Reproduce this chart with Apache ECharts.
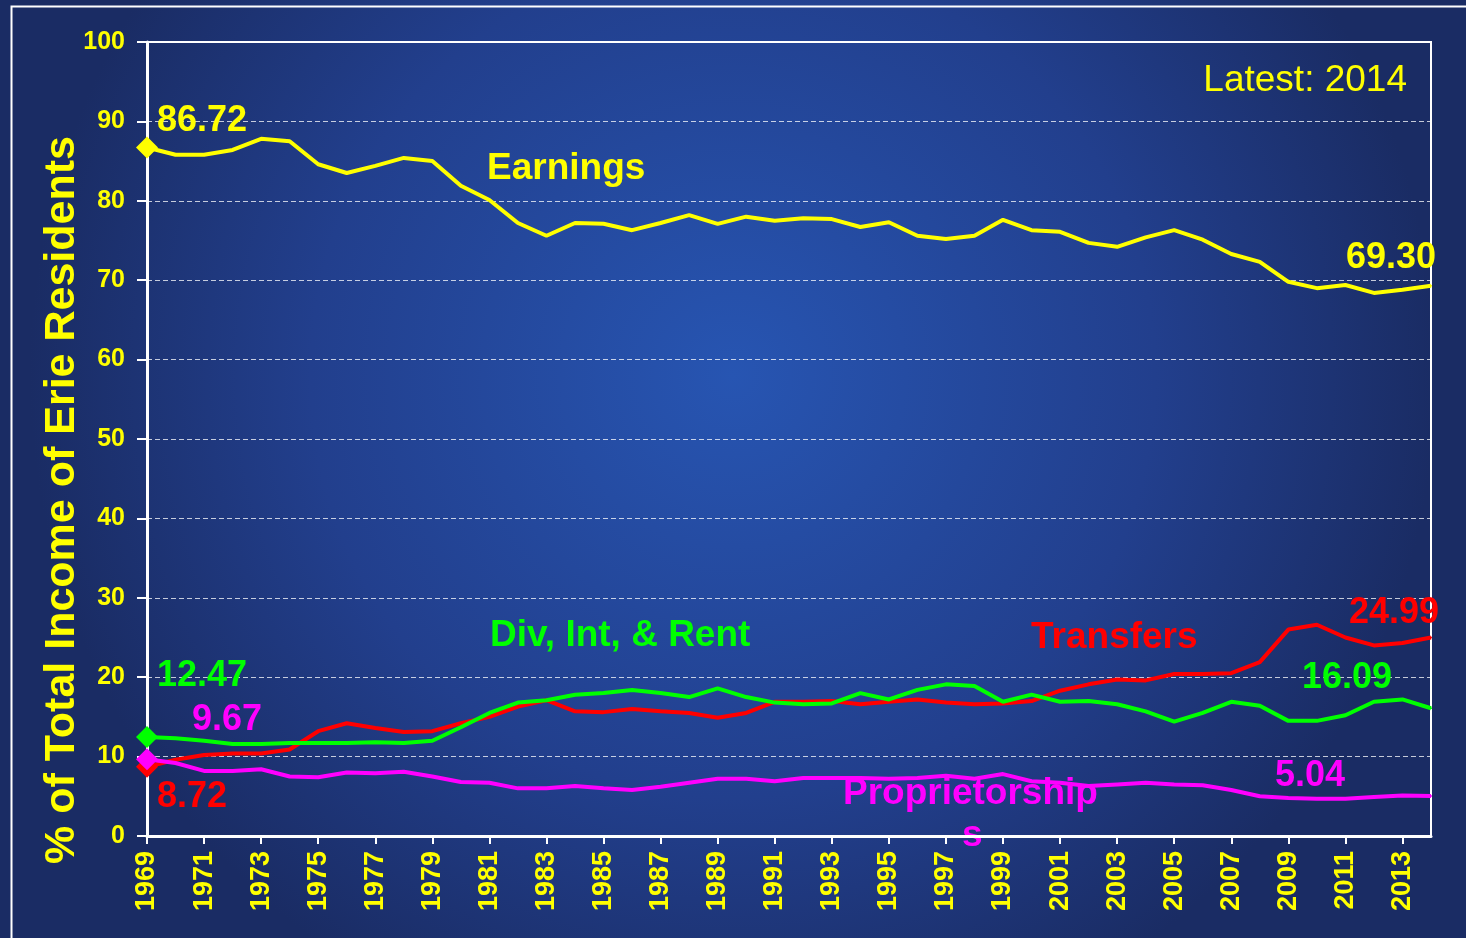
<!DOCTYPE html>
<html>
<head>
<meta charset="utf-8">
<script src="https://cdn.jsdelivr.net/npm/echarts@6/dist/echarts.min.js"></script>
<style>
html, body { margin: 0; padding: 0; }
#chart { width: 1466px; height: 938px; }
</style>
</head>
<body>
<div id="chart"></div>
<script>
var years = ['1969','1970','1971','1972','1973','1974','1975','1976','1977','1978',
    '1979','1980','1981','1982','1983','1984','1985','1986','1987','1988',
    '1989','1990','1991','1992','1993','1994','1995','1996','1997','1998',
    '1999','2000','2001','2002','2003','2004','2005','2006','2007','2008',
    '2009','2010','2011','2012','2013','2014'];

var earnings = [86.72, 85.8, 85.8, 86.4, 87.8, 87.5, 84.6, 83.5, 84.4, 85.4, 85.0,
    81.9, 80.1, 77.2, 75.6, 77.2, 77.1, 76.3, 77.2, 78.2, 77.1,
    78.0, 77.5, 77.8, 77.7, 76.7, 77.3, 75.6, 75.2, 75.6, 77.6,
    76.3, 76.1, 74.7, 74.2, 75.4, 76.3, 75.1, 73.3, 72.3, 69.8,
    69.0, 69.4, 68.4, 68.8, 69.30];

var transfers = [8.72, 9.6, 10.2, 10.4, 10.4, 10.9, 13.2, 14.2, 13.6, 13.1, 13.2,
    14.2, 15.0, 16.3, 17.1, 15.7, 15.6, 16.0, 15.7, 15.5, 14.9,
    15.5, 16.9, 16.9, 17.0, 16.6, 16.9, 17.2, 16.8, 16.6, 16.7,
    17.0, 18.3, 19.1, 19.7, 19.6, 20.4, 20.4, 20.5, 21.9, 26.0,
    26.6, 25.0, 24.0, 24.3, 24.99];

var divIntRent = [12.47, 12.3, 12.0, 11.6, 11.6, 11.7, 11.7, 11.7, 11.8, 11.7, 12.0,
    13.7, 15.5, 16.8, 17.1, 17.8, 18.0, 18.4, 18.0, 17.5, 18.6,
    17.5, 16.8, 16.6, 16.7, 18.0, 17.2, 18.4, 19.1, 18.9, 16.9,
    17.8, 16.9, 17.0, 16.6, 15.7, 14.4, 15.5, 16.9, 16.4, 14.5,
    14.5, 15.2, 16.9, 17.2, 16.09];

var proprietorships = [9.67, 9.2, 8.2, 8.2, 8.4, 7.5, 7.4, 8.0, 7.9, 8.1, 7.5,
    6.8, 6.7, 6.0, 6.0, 6.3, 6.0, 5.8, 6.2, 6.7, 7.2,
    7.2, 6.9, 7.3, 7.3, 7.3, 7.2, 7.3, 7.6, 7.2, 7.8,
    6.9, 6.7, 6.3, 6.5, 6.7, 6.5, 6.4, 5.8, 5.0, 4.8,
    4.7, 4.7, 4.9, 5.1, 5.04];

var FONT = 'Liberation Sans, Arial, sans-serif';

// first point gets a diamond + value label, last point a value label only
function buildData(values, color, firstOffset, lastOffset) {
    var last = values.length - 1;
    return values.map(function (v, i) {
        if (i === 0) {
            return {
                value: v, symbol: 'diamond', symbolSize: 22,
                itemStyle: { color: color },
                label: {
                    show: true, position: 'right', distance: 0, offset: firstOffset,
                    formatter: v.toFixed(2), color: color,
                    fontSize: 36, fontWeight: 'bold', fontFamily: FONT
                }
            };
        }
        if (i === last) {
            return {
                value: v, symbol: 'circle', symbolSize: 2,
                itemStyle: { color: color },
                label: {
                    show: true, position: 'left', distance: 0, offset: lastOffset,
                    formatter: v.toFixed(2), color: color,
                    fontSize: 36, fontWeight: 'bold', fontFamily: FONT
                }
            };
        }
        return v;
    });
}

function lineSeries(name, values, color, firstOffset, lastOffset) {
    return {
        name: name,
        type: 'line',
        symbol: 'none',
        showSymbol: true,
        showAllSymbol: true,
        clip: false,
        lineStyle: { color: color, width: 4 },
        itemStyle: { color: color },
        data: buildData(values, color, firstOffset, lastOffset)
    };
}

function nameText(text, x, y, color) {
    return {
        type: 'text', left: x, top: y,
        style: { text: text, fill: color, font: 'bold 37px ' + FONT }
    };
}

var option = {
    backgroundColor: {
        type: 'radial', x: 0.5, y: 0.4, r: 0.75,
        colorStops: [
            { offset: 0, color: '#2755b2' },
            { offset: 0.6, color: '#223f8d' },
            { offset: 1, color: '#1a2c64' }
        ]
    },
    animation: false,
    grid: {
        left: 147, right: 35, top: 42, bottom: 102,
        show: true, borderColor: '#ffffff', borderWidth: 2
    },
    xAxis: {
        type: 'category',
        data: years,
        boundaryGap: false,
        axisLine: { lineStyle: { color: '#ffffff', width: 3 } },
        axisTick: { interval: 1, length: 8, lineStyle: { color: '#ffffff', width: 2 } },
        axisLabel: {
            interval: 1, rotate: 90, margin: 15,
            color: '#ffff00', fontSize: 27, fontWeight: 'bold', fontFamily: FONT
        },
        splitLine: { show: false }
    },
    yAxis: {
        type: 'value',
        min: 0, max: 100, interval: 10,
        axisLine: { show: true, lineStyle: { color: '#ffffff', width: 3 } },
        axisTick: { show: true, length: 10, lineStyle: { color: '#ffffff', width: 2 } },
        axisLabel: {
            margin: 22,
            color: '#ffff00', fontSize: 25, fontWeight: 'bold', fontFamily: FONT
        },
        splitLine: { lineStyle: { color: 'rgba(255,255,255,0.75)', type: [5, 3], width: 1 } }
    },
    graphic: [
        {
            type: 'rect', left: 9, top: 4, silent: true,
            shape: { width: 1470, height: 950 },
            style: { fill: 'none', stroke: '#ffffff', lineWidth: 2 }
        },
        {
            type: 'text', x: 62, y: 500, rotation: Math.PI / 2,
            style: {
                text: '% of Total Income of Erie Residents', fill: '#ffff00',
                font: 'bold 43px ' + FONT, align: 'center', verticalAlign: 'middle'
            }
        },
        {
            type: 'text', right: 59, top: 62,
            style: { text: 'Latest: 2014', fill: '#ffff00', font: '37px ' + FONT }
        },
        nameText('Earnings', 487, 150, '#ffff00'),
        nameText('Div, Int, & Rent', 490, 617, '#00ff00'),
        nameText('Transfers', 1031, 619, '#ff0000'),
        nameText('Proprietorship', 843, 775, '#ff00ff'),
        nameText('s', 962, 817, '#ff00ff')
    ],
    series: [
        lineSeries('Earnings', earnings, '#ffff00', [-1, -26], [6, -28]),
        lineSeries('Transfers', transfers, '#ff0000', [-1, 30], [9, -25]),
        lineSeries('Div, Int, & Rent', divIntRent, '#00ff00', [-1, -61], [-38, -30]),
        lineSeries('Proprietorships', proprietorships, '#ff00ff', [34, -39], [-85, -20])
    ]
};

var chart = echarts.init(document.getElementById('chart'));
chart.setOption(option);
</script>
</body>
</html>
